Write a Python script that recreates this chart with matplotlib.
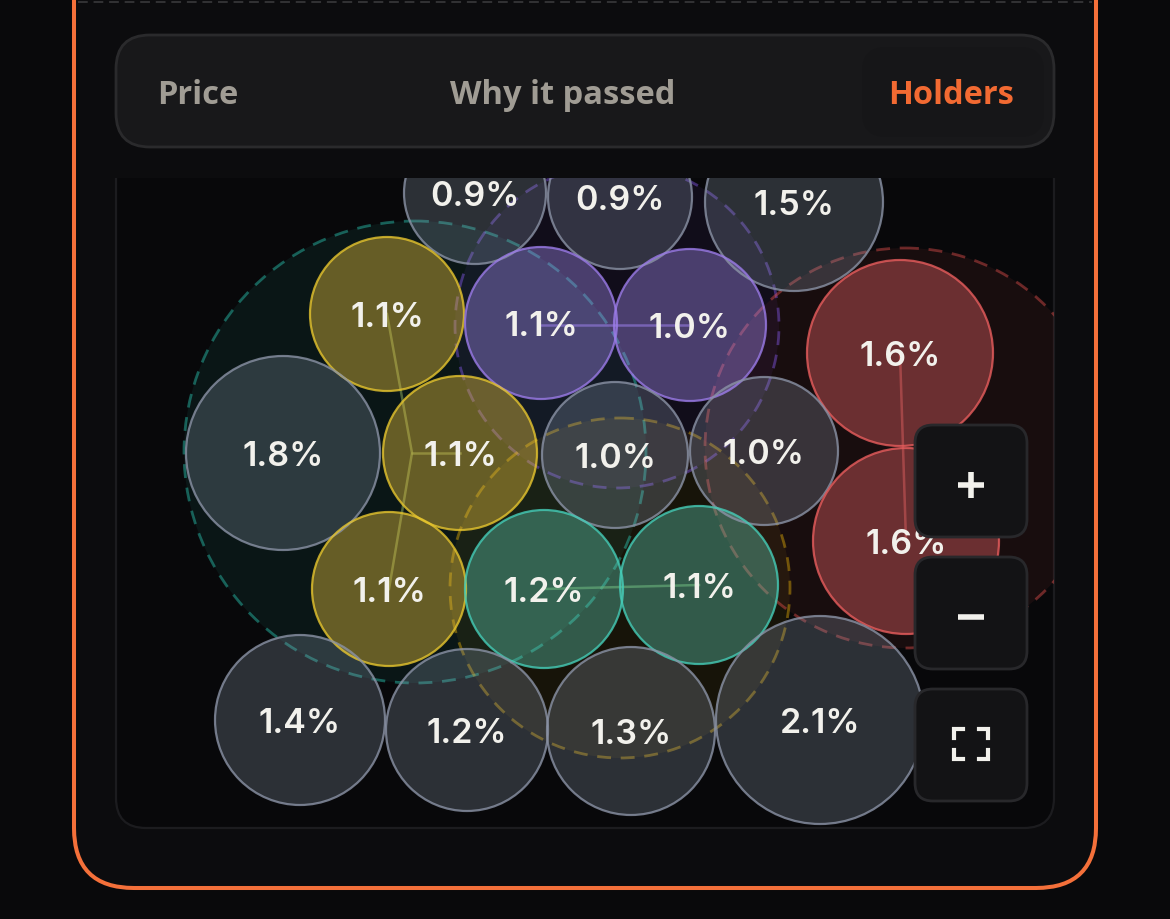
import matplotlib
matplotlib.use("Agg")
import matplotlib.pyplot as plt
from matplotlib.patches import Circle, FancyBboxPatch, Rectangle

# bubbles, one list per field (pixels of the screenshot)
labels = ["0.9%", "0.9%", "1.5%", "1.1%", "1.1%", "1.0%", "1.6%", "1.8%", "1.1%", "1.0%",
          "1.0%", "1.6%", "1.1%", "1.2%", "1.1%", "1.4%", "1.2%", "1.3%", "2.1%"]
bubble_x = [475, 620, 794, 387, 541, 690, 900, 283, 460, 615, 764, 906, 389, 544, 699, 300, 467, 631, 820]
bubble_y = [193, 197, 202, 314, 323, 325, 353, 453, 453, 455, 451, 541, 589, 589, 585, 720, 730, 731, 720]
bubble_r = [71, 72, 89, 77, 76, 76, 93, 97, 77, 73, 74, 93, 77, 79, 79, 85, 81, 84, 104]
groups = ["grey", "grey", "grey", "yellow", "purple", "purple", "red", "grey", "yellow", "grey",
          "grey", "red", "yellow", "teal", "teal", "grey", "grey", "grey", "grey"]

# dashed cluster circles
cluster_x = [415, 617, 620, 905]
cluster_y = [452, 326, 588, 448]
cluster_r = [231, 162, 170, 200]
cluster_group = ["teal", "purple", "yellow", "red"]

# links between bubbles
link_x = [[387, 412, 389], [412, 460], [541, 690], [900, 906], [544, 699]]
link_y = [[314, 453, 589], [453, 453], [325, 325], [353, 541], [589, 585]]
link_col = ["#7f9a55", "#7f9a55", "#8a70d8", "#b85050", "#6f9f58"]

fill_col = {"grey": "#94a3b8", "yellow": "#ebc33e", "purple": "#a98ff5", "red": "#e05f62", "teal": "#64d9be"}
edge_col = {"grey": "#8b93a6", "yellow": "#e6c52e", "purple": "#9b7be8", "red": "#e85d5d", "teal": "#45cdb8"}
dash_col = {"teal": "#2dd4bf", "purple": "#8b5cf6", "yellow": "#eab308", "red": "#ef5350"}
fill_alpha = {"grey": 0.26, "yellow": 0.41, "purple": 0.38, "red": 0.42, "teal": 0.36}

tabs = ["Price", "Why it passed", "Holders"]
tab_x = [198, 563, 951]
tab_col = ["#a09c94", "#a09c94", "#f26a32"]

buttons_y = [425, 557, 689]
ORANGE = "#f4703a"

fig = plt.figure(figsize=(11.7, 9.19), dpi=100, facecolor="#09090b")
ax = fig.add_axes([0, 0, 1, 1])
ax.set_xlim(0, 1170)
ax.set_ylim(919, 0)
ax.axis("off")


def rounded(x0, y0, x1, y1, r, **kw):
    p = FancyBboxPatch((x0 + r, y0 + r), x1 - x0 - 2 * r, y1 - y0 - 2 * r,
                       boxstyle="round,pad=%g,rounding_size=%g" % (r, r), **kw)
    ax.add_patch(p)
    return p


# card with the orange outline
rounded(74, -120, 1096, 888, 60, fc="#0c0c0e", ec=ORANGE, lw=2.9, zorder=1)
ax.plot([78, 1092], [2, 2], color="#333335", lw=1.4, ls=(0, (5, 3)), zorder=2)

# chart panel, bubbles get clipped to it
panel = rounded(116, 120, 1054, 828, 30, fc="#08080a", ec="#1c1c1f", lw=1.6, zorder=2)

for x, y, r, g in zip(cluster_x, cluster_y, cluster_r, cluster_group):
    c = Circle((x, y), r, fc=dash_col[g], alpha=0.07, ec="none", zorder=3)
    ax.add_patch(c)
    c.set_clip_path(panel)
    c = Circle((x, y), r, fc="none", ec=dash_col[g], alpha=0.42, lw=2, ls=(0, (5, 3.5)), zorder=3.2)
    ax.add_patch(c)
    c.set_clip_path(panel)

for xs, ys, col in zip(link_x, link_y, link_col):
    ax.plot(xs, ys, color=col, alpha=0.6, lw=1.8, zorder=3.4)

for x, y, r, g, lab in zip(bubble_x, bubble_y, bubble_r, groups, labels):
    c = Circle((x, y), r, fc=fill_col[g], alpha=fill_alpha[g], ec="none", zorder=4)
    ax.add_patch(c)
    c.set_clip_path(panel)
    c = Circle((x, y), r, fc="none", ec=edge_col[g], lw=1.6, alpha=0.8, zorder=4.2)
    ax.add_patch(c)
    c.set_clip_path(panel)
    t = ax.text(x, y + 4, lab, color="#f2f1ec", fontsize=24.5, family="Inter", fontweight="semibold",
                ha="center", va="center", zorder=5)
    t.set_clip_path(panel)

# covers the bubbles above the panel, then the tab bar
ax.add_patch(Rectangle((110, 100), 950, 78, fc="#0c0c0e", ec="none", zorder=6))
rounded(116, 35, 1054, 147, 34, fc="#18181a", ec="#2a2a2c", lw=2, zorder=7)
rounded(862, 47, 1044, 137, 24, fc="#161618", ec="none", zorder=7.2)
for lab, x, col in zip(tabs, tab_x, tab_col):
    ax.text(x, 95, lab, color=col, fontsize=23.5, family="Open Sans", fontweight="bold",
            ha="center", va="center", zorder=8)

# zoom controls
for y in buttons_y:
    rounded(915, y, 1027, y + 112, 18, fc="#131315", ec="#28282b", lw=2, zorder=9)
ax.plot([958, 984], [485, 485], color="#f2f1ec", lw=4, solid_capstyle="butt", zorder=10)
ax.plot([971, 971], [472, 498], color="#f2f1ec", lw=4, solid_capstyle="butt", zorder=10)
ax.plot([958, 984], [617, 617], color="#f2f1ec", lw=4, solid_capstyle="butt", zorder=10)
for cx, sx in [(954, 1), (988, -1)]:
    for cy, sy in [(729, 1), (759, -1)]:
        ax.plot([cx + sx * 9, cx, cx], [cy, cy, cy + sy * 9], color="#f2f1ec", lw=3,
                solid_joinstyle="miter", zorder=10)

fig.savefig("out.png", dpi=100, facecolor=fig.get_facecolor())
